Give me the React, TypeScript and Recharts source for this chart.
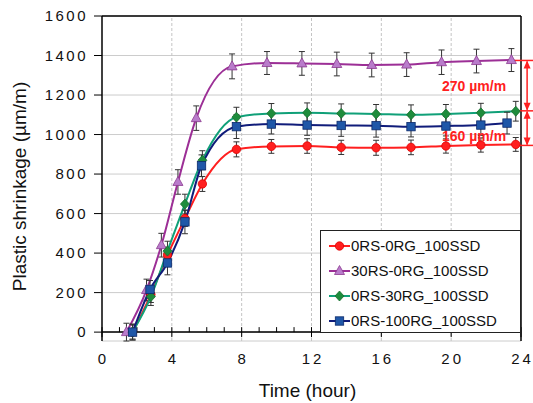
import React from 'react';
import {
  LineChart,
  Line,
  XAxis,
  YAxis,
  CartesianGrid,
  ErrorBar,
  ReferenceLine,
  Legend
} from 'recharts';

// sampling times (hour)
const time30RS = [1.4, 2.55, 3.4, 4.35, 5.4, 7.45, 9.45, 11.45, 13.45, 15.45, 17.45, 19.45, 21.45, 23.45];
const time0RS = [1.75, 2.8, 3.75, 4.75, 5.75, 7.7, 9.7, 11.75, 13.7, 15.7, 17.7, 19.7, 21.7, 23.7];
const time100RG = [1.75, 2.75, 3.75, 4.75, 5.7, 7.7, 9.7, 11.75, 13.7, 15.7, 17.7, 19.7, 21.7, 23.2];

// shrinkage (µm/m)
const ref0RS = [0, 190, 390, 575, 750, 925, 940, 942, 935, 933, 935, 942, 947, 950];
const rs30 = [0, 213, 440, 760, 1083, 1345, 1362, 1360, 1357, 1352, 1354, 1366, 1372, 1377];
const rg30 = [0, 180, 410, 648, 870, 1088, 1107, 1110, 1107, 1104, 1100, 1104, 1110, 1118];
const rg100 = [0, 216, 350, 558, 842, 1040, 1053, 1048, 1046, 1045, 1040, 1043, 1048, 1058];

// standard deviation (µm/m)
const ref0RSErr = [35, 40, 40, 40, 38, 38, 35, 37, 36, 38, 37, 36, 36, 35];
const rs30Err = [45, 55, 60, 62, 62, 63, 58, 60, 60, 60, 60, 62, 60, 58];
const rg30Err = [40, 45, 50, 50, 48, 50, 50, 50, 48, 48, 50, 48, 48, 50];
const rg100Err = [40, 45, 60, 60, 55, 60, 50, 52, 55, 58, 52, 50, 52, 55];

const majorHours = [0, 4, 8, 12, 16, 20, 24];
const minorHours = [1, 2, 3, 5, 6, 7, 9, 10, 11, 13, 14, 15, 17, 18, 19, 21, 22, 23];
const gridHours = [4, 8, 12, 16, 20];
const shrinkTicks = [0, 200, 400, 600, 800, 1000, 1200, 1400, 1600];

// difference annotations
const levelHigh = 1375;
const levelMid = 1120;
const levelLow = 945;

const toRows = (t: number[], v: number[], e: number[]) =>
  t.map((x, i) => ({ x, y: v[i], err: e[i] }));

type Shape = 'circle' | 'triangle' | 'diamond' | 'square';

const series = [
  { name: '0RS-0RG_100SSD', data: toRows(time0RS, ref0RS, ref0RSErr), color: '#ff1f1f', fill: '#ff1f1f', edge: '#e00000', shape: 'circle' as Shape },
  { name: '30RS-0RG_100SSD', data: toRows(time30RS, rs30, rs30Err), color: '#9c2f96', fill: '#b97ccb', edge: '#8b3a8f', shape: 'triangle' as Shape },
  { name: '0RS-30RG_100SSD', data: toRows(time0RS, rg30, rg30Err), color: '#10a078', fill: '#1e8c3c', edge: '#16702f', shape: 'diamond' as Shape },
  { name: '0RS-100RG_100SSD', data: toRows(time100RG, rg100, rg100Err), color: '#101c7a', fill: '#1f57a8', edge: '#0d2a6b', shape: 'square' as Shape }
];

const Marker = ({ shape, cx, cy, fill, edge }: { shape: Shape; cx: number; cy: number; fill: string; edge: string }) => {
  if (cx == null || cy == null) return null;
  if (shape === 'circle') return <circle cx={cx} cy={cy} r={4.2} fill={fill} stroke={edge} strokeWidth={0.8} />;
  if (shape === 'square') return <rect x={cx - 4.2} y={cy - 4.2} width={8.4} height={8.4} fill={fill} stroke={edge} strokeWidth={0.8} />;
  if (shape === 'diamond')
    return <polygon points={`${cx},${cy - 5} ${cx + 4.5},${cy} ${cx},${cy + 5} ${cx - 4.5},${cy}`} fill={fill} stroke={edge} strokeWidth={0.8} />;
  return <polygon points={`${cx},${cy - 5.5} ${cx + 5},${cy + 3.5} ${cx - 5},${cy + 3.5}`} fill={fill} stroke={edge} strokeWidth={0.8} />;
};

const TimeTick = (props: any) => {
  const { x, y, payload } = props;
  return (
    <text x={x + 1.5} y={y} dy="0.71em" textAnchor="middle" fontSize={15} fill="#111" style={{ letterSpacing: '3px' }}>
      {payload.value}
    </text>
  );
};

const ShrinkTick = (props: any) => {
  const { x, y, payload } = props;
  return (
    <text x={x + 2} y={y} dy="0.355em" textAnchor="end" fontSize={15} fill="#111" style={{ letterSpacing: '2.5px' }}>
      {payload.value}
    </text>
  );
};

// small inward tick on the bottom frame, placed by the reference line's scaled point
const HourMark = (props: any) => {
  const { x1, y1, major } = props;
  return <line x1={x1} x2={x1} y1={y1 - 5} y2={y1 + (major ? 5 : 0)} stroke="#000" strokeWidth={1} />;
};

const DiffArrow = (props: any) => {
  const { x1, y1, x2, y2, text, shift } = props;
  const top = Math.min(y1, y2);
  const bottom = Math.max(y1, y2);
  const red = '#ff2020';
  return (
    <g>
      <line x1={x1} x2={x2} y1={top + 1} y2={bottom - 1} stroke={red} strokeWidth={1.5} />
      <polygon points={`${x1},${top} ${x1 - 3.5},${top + 8} ${x1 + 3.5},${top + 8}`} fill={red} />
      <polygon points={`${x1},${bottom} ${x1 - 3.5},${bottom - 8} ${x1 + 3.5},${bottom - 8}`} fill={red} />
      <text x={x1 - 21} y={(top + bottom) / 2 + (shift || 0)} dominantBaseline="central" textAnchor="end" fontSize={14} fontWeight="bold" fill={red}>
        {text}
      </text>
    </g>
  );
};

const LegendBox = () => (
  <div
    style={{
      width: 201,
      height: 103,
      border: '1px solid #222',
      background: '#fff',
      boxSizing: 'border-box',
      paddingTop: 2,
      fontFamily: '"Liberation Sans", Arial, sans-serif'
    }}
  >
    {series.map((s) => (
      <div key={s.name} style={{ display: 'flex', alignItems: 'center', height: 25 }}>
        <svg width={30} height={14} style={{ display: 'block' }}>
          <line x1={8} x2={29} y1={7} y2={7} stroke={s.color} strokeWidth={2} />
          <Marker shape={s.shape} cx={18.5} cy={7} fill={s.fill} edge={s.edge} />
        </svg>
        <span style={{ fontSize: 15, color: '#111', lineHeight: '15px' }}>{s.name}</span>
      </div>
    ))}
  </div>
);

export default function App() {
  return (
    <div style={{ position: 'absolute', left: 0, top: 0, width: 533, height: 403, background: '#fff', fontFamily: '"Liberation Sans", Arial, sans-serif' }}>
      <LineChart width={533} height={403} margin={{ top: 16, right: 12, bottom: 0, left: 0 }}>
        <CartesianGrid vertical={false} stroke="#cccccc" strokeWidth={1} />
        {gridHours.map((h) => (
          <ReferenceLine key={h} x={h} stroke="#c4c4c4" strokeDasharray="3 2" />
        ))}
        <XAxis
          dataKey="x"
          type="number"
          domain={[0, 24]}
          ticks={majorHours}
          interval={0}
          height={62}
          tickSize={0}
          tickMargin={12}
          tickLine={false}
          axisLine={false}
          tick={<TimeTick />}
          label={{
            content: (p: any) => {
              const vb = p.viewBox;
              return (
                <text x={vb.x + vb.width / 2 - 4} y={vb.y + 49} textAnchor="middle" dominantBaseline="central" fontSize={19} fill="#111">
                  Time (hour)
                </text>
              );
            }
          }}
        />
        <YAxis
          type="number"
          domain={[0, 1600]}
          ticks={shrinkTicks}
          width={102}
          tickSize={8}
          tickMargin={8}
          tickLine={{ stroke: '#000' }}
          tick={<ShrinkTick />}
          axisLine={{ stroke: '#000', strokeWidth: 1.5 }}
          label={{
            content: (p: any) => {
              const vb = p.viewBox;
              const cx = vb.x + 19;
              const cy = vb.y + vb.height / 2 + 8;
              return (
                <text x={cx} y={cy} transform={`rotate(-90, ${cx}, ${cy})`} textAnchor="middle" dominantBaseline="central" fontSize={19} fill="#111">
                  Plastic shrinkage (µm/m)
                </text>
              );
            }
          }}
        />
        <ReferenceLine y={1600} stroke="#000" strokeWidth={1.5} />
        <ReferenceLine x={24} stroke="#000" strokeWidth={1.5} />
        <ReferenceLine y={0} stroke="#000" strokeWidth={1.5} />
        {majorHours.map((h) => (
          <ReferenceLine key={`M${h}`} segment={[{ x: h, y: 0 }, { x: h, y: 0 }]} ifOverflow="visible" shape={(p: any) => <HourMark {...p} major />} />
        ))}
        {minorHours.map((h) => (
          <ReferenceLine key={`m${h}`} segment={[{ x: h, y: 0 }, { x: h, y: 0 }]} ifOverflow="visible" shape={(p: any) => <HourMark {...p} />} />
        ))}
        {series.map((s) => (
          <Line
            key={s.name}
            data={s.data}
            dataKey="y"
            name={s.name}
            type="monotone"
            stroke={s.color}
            strokeWidth={2}
            isAnimationActive={false}
            dot={(p: any) => <Marker key={`${s.name}-${p.index}`} shape={s.shape} cx={p.cx} cy={p.cy} fill={s.fill} edge={s.edge} />}
            activeDot={false}
          >
            <ErrorBar dataKey="err" direction="y" width={3} stroke="#333" strokeWidth={1} isAnimationActive={false} />
          </Line>
        ))}
        <ReferenceLine segment={[{ x: 23.5, y: levelHigh }, { x: 24.7, y: levelHigh }]} stroke="#ff2020" strokeWidth={1.5} ifOverflow="visible" />
        <ReferenceLine segment={[{ x: 23.5, y: levelMid }, { x: 24.7, y: levelMid }]} stroke="#ff2020" strokeWidth={1.5} ifOverflow="visible" />
        <ReferenceLine segment={[{ x: 23.5, y: levelLow }, { x: 24.7, y: levelLow }]} stroke="#ff2020" strokeWidth={1.5} ifOverflow="visible" />
        <ReferenceLine
          segment={[{ x: 24.35, y: levelHigh }, { x: 24.35, y: levelMid }]}
          ifOverflow="visible"
          shape={(p: any) => <DiffArrow {...p} text="270 µm/m" shift={0} />}
        />
        <ReferenceLine
          segment={[{ x: 24.35, y: levelMid }, { x: 24.35, y: levelLow }]}
          ifOverflow="visible"
          shape={(p: any) => <DiffArrow {...p} text="160 µm/m" shift={8} />}
        />
        <Legend
          layout="vertical"
          align="center"
          verticalAlign="middle"
          wrapperStyle={{ position: 'absolute', left: 320, top: 230, width: 201, height: 103 }}
          content={() => <LegendBox />}
        />
      </LineChart>
    </div>
  );
}
